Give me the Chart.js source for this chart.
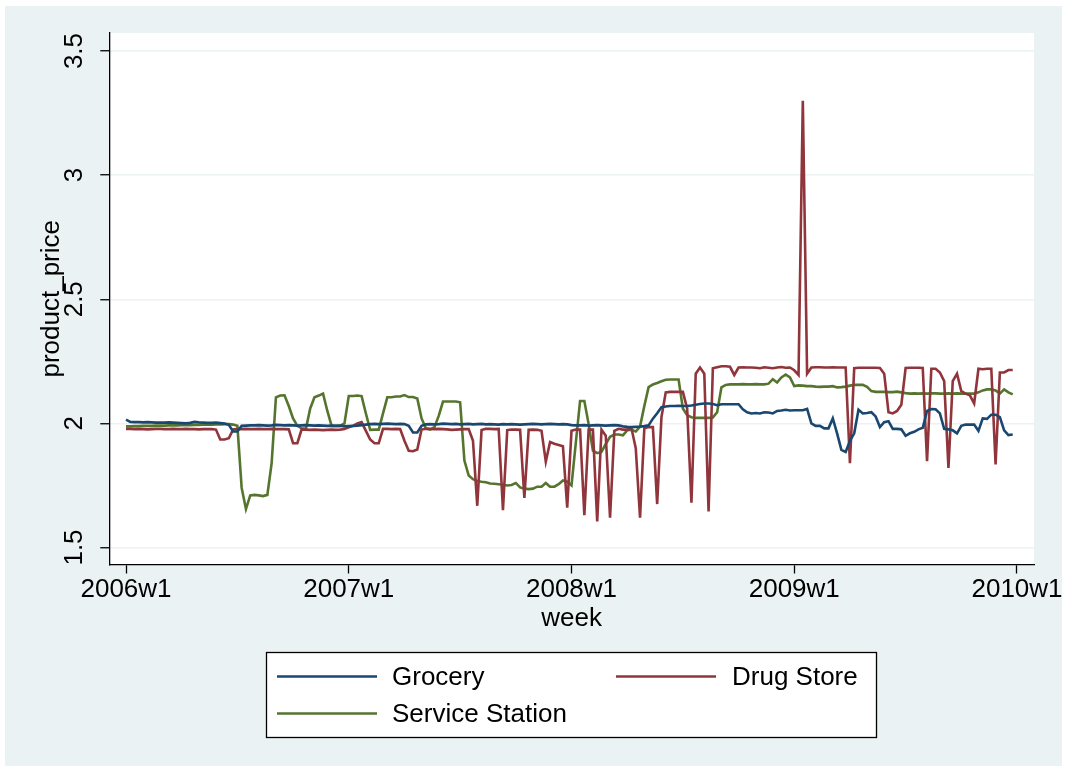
<!DOCTYPE html>
<html>
<head>
<meta charset="utf-8">
<title>product_price by week</title>
<script src="https://cdn.jsdelivr.net/npm/chart.js@4.4.1/dist/chart.umd.min.js"></script>
<style>
  html, body { margin: 0; padding: 0; background: #ffffff; }
  canvas { display: block; }
</style>
</head>
<body>
<canvas id="c" width="1067" height="772"></canvas>
<script>
// Weekly index (Stata %tw numbering: 2006w1 = 2392), 2006w1 .. 2009w52
const firstWeek = 2392;
const weeks = Array.from({ length: 208 }, (_, i) => firstWeek + i);

// x-axis ticks and their labels
const xTickWeeks = [2392, 2444, 2496, 2548, 2600];
const xTickLabels = ['2006w1', '2007w1', '2008w1', '2009w1', '2010w1'];

// y-axis ticks and their labels
const yTickValues = [1.5, 2, 2.5, 3, 3.5];
const yTickLabels = ['1.5', '2', '2.5', '3', '3.5'];

const seriesNames = ['Grocery', 'Drug Store', 'Service Station'];

// Average product price per week, grocery stores
const grocery = [
  2.015, 2.006, 2.005, 2.005, 2.004, 2.005, 2.004, 2.003, 2.003, 2.003,
  2.004, 2.003, 2.002, 2.001, 2.000, 2.002, 2.006, 2.004, 2.003, 2.002,
  2.002, 2.003, 2.001, 1.999, 1.994, 1.967, 1.967, 1.990, 1.991, 1.992,
  1.992, 1.993, 1.992, 1.991, 1.992, 1.994, 1.993, 1.992, 1.993, 1.992,
  1.991, 1.992, 1.993, 1.992, 1.991, 1.992, 1.991, 1.990, 1.991, 1.990,
  1.991, 1.988, 1.989, 1.990, 1.991, 1.993, 1.995, 1.997, 1.998, 1.997,
  1.998, 1.999, 1.998, 1.997, 1.998, 1.997, 1.990, 1.963, 1.963, 1.990,
  1.996, 1.997, 1.996, 1.997, 1.999, 1.998, 1.997, 1.998, 1.996, 1.997,
  1.998, 1.996, 1.997, 1.998, 1.996, 1.997, 1.996, 1.995, 1.997, 1.996,
  1.997, 1.996, 1.995, 1.996, 1.997, 1.998, 1.997, 1.996, 1.997, 1.998,
  1.997, 1.996, 1.997, 1.996, 1.993, 1.992, 1.992, 1.993, 1.991, 1.992,
  1.993, 1.992, 1.991, 1.992, 1.993, 1.992, 1.988, 1.986, 1.985, 1.986,
  1.987, 1.989, 1.992, 2.019, 2.041, 2.065, 2.068, 2.070, 2.070, 2.071,
  2.070, 2.070, 2.072, 2.075, 2.078, 2.080, 2.080, 2.078, 2.073, 2.077,
  2.077, 2.077, 2.077, 2.077, 2.057, 2.045, 2.040, 2.042, 2.040, 2.045,
  2.044, 2.040, 2.050, 2.052, 2.055, 2.052, 2.053, 2.053, 2.053, 2.058,
  2.000, 1.990, 1.990, 1.980, 1.980, 2.020, 1.960, 1.893, 1.885, 1.930,
  1.960, 2.055, 2.040, 2.042, 2.045, 2.028, 1.985, 2.005, 2.009, 1.978,
  1.978, 1.976, 1.950, 1.960, 1.966, 1.976, 1.982, 2.050, 2.058, 2.057,
  2.040, 1.978, 1.976, 1.972, 1.960, 1.990, 1.995, 1.995, 1.995, 1.970,
  2.020, 2.018, 2.035, 2.035, 2.025, 1.972, 1.953, 1.955
];

// Average product price per week, drug stores
const drugStore = [
  1.978, 1.978, 1.977, 1.978, 1.977, 1.976, 1.977, 1.978, 1.978, 1.977,
  1.977, 1.978, 1.977, 1.977, 1.978, 1.977, 1.977, 1.976, 1.977, 1.977,
  1.977, 1.975, 1.935, 1.935, 1.940, 1.975, 1.977, 1.977, 1.978, 1.977,
  1.977, 1.978, 1.977, 1.977, 1.978, 1.977, 1.977, 1.977, 1.976, 1.920,
  1.920, 1.976, 1.975, 1.974, 1.975, 1.974, 1.973, 1.974, 1.975, 1.974,
  1.975, 1.977, 1.984, 1.990, 2.000, 2.005, 1.970, 1.935, 1.920, 1.920,
  1.978, 1.978, 1.977, 1.978, 1.977, 1.930, 1.890, 1.888, 1.895, 1.975,
  1.978, 1.978, 1.977, 1.978, 1.977, 1.976, 1.974, 1.975, 1.976, 1.977,
  1.977, 1.930, 1.668, 1.973, 1.978, 1.978, 1.977, 1.978, 1.650, 1.973,
  1.975, 1.975, 1.974, 1.700, 1.974, 1.975, 1.974, 1.970, 1.846, 1.925,
  1.918, 1.913, 1.908, 1.660, 1.970, 1.975, 1.975, 1.630, 1.975, 1.975,
  1.605, 1.975, 1.950, 1.620, 1.970, 1.978, 1.975, 1.975, 1.980, 1.900,
  1.620, 1.980, 1.985, 1.985, 1.675, 2.025, 2.125, 2.127, 2.127, 2.127,
  2.127, 2.060, 1.680, 2.200, 2.225, 2.200, 1.645, 2.222, 2.226, 2.230,
  2.230, 2.228, 2.195, 2.225, 2.226, 2.225, 2.225, 2.224, 2.222, 2.226,
  2.224, 2.222, 2.225, 2.227, 2.224, 2.225, 2.214, 2.195, 3.300, 2.200,
  2.225, 2.226, 2.226, 2.225, 2.225, 2.226, 2.225, 2.225, 2.225, 1.840,
  2.222, 2.224, 2.224, 2.224, 2.224, 2.224, 2.223, 2.200, 2.045, 2.040,
  2.050, 2.075, 2.223, 2.224, 2.224, 2.224, 2.223, 1.848, 2.220, 2.220,
  2.205, 2.170, 1.820, 2.170, 2.200, 2.130, 2.120, 2.113, 2.080, 2.220,
  2.218, 2.220, 2.220, 1.835, 2.205, 2.205, 2.215, 2.215
];

// Average product price per week, service stations
const serviceStation = [
  1.988, 1.988, 1.989, 1.989, 1.990, 1.990, 1.990, 1.991, 1.991, 1.991,
  1.992, 1.992, 1.992, 1.993, 1.993, 1.993, 1.994, 1.994, 1.995, 1.995,
  1.995, 1.996, 1.996, 1.997, 1.997, 1.995, 1.990, 1.740, 1.655, 1.710,
  1.712, 1.710, 1.707, 1.712, 1.840, 2.105, 2.112, 2.113, 2.070, 2.020,
  1.990, 1.980, 1.978, 2.060, 2.105, 2.112, 2.120, 2.050, 1.990, 1.990,
  1.990, 2.000, 2.110, 2.110, 2.112, 2.110, 2.040, 1.974, 1.975, 1.975,
  2.040, 2.105, 2.105, 2.108, 2.108, 2.114, 2.106, 2.106, 2.100, 2.020,
  1.980, 1.975, 1.985, 2.030, 2.088, 2.088, 2.088, 2.088, 2.085, 1.850,
  1.790, 1.775, 1.768, 1.765, 1.763, 1.758, 1.757, 1.755, 1.753, 1.750,
  1.752, 1.760, 1.742, 1.737, 1.735, 1.737, 1.745, 1.745, 1.760, 1.745,
  1.745, 1.755, 1.770, 1.765, 1.750, 1.920, 2.090, 2.090, 1.997, 1.890,
  1.880, 1.885, 1.917, 1.946, 1.955, 1.955, 1.952, 1.972, 1.974, 1.967,
  1.987, 2.070, 2.146, 2.157, 2.163, 2.170, 2.176, 2.177, 2.177, 2.177,
  2.060, 2.033, 2.025, 2.022, 2.022, 2.022, 2.022, 2.024, 2.045, 2.145,
  2.155, 2.157, 2.157, 2.157, 2.158, 2.157, 2.157, 2.158, 2.157, 2.157,
  2.160, 2.178, 2.165, 2.185, 2.197, 2.185, 2.150, 2.153, 2.152, 2.150,
  2.150, 2.148, 2.147, 2.148, 2.148, 2.150, 2.145, 2.146, 2.148, 2.152,
  2.155, 2.155, 2.155, 2.147, 2.130, 2.127, 2.127, 2.127, 2.126, 2.126,
  2.128, 2.125, 2.122, 2.120, 2.121, 2.120, 2.121, 2.120, 2.121, 2.121,
  2.120, 2.120, 2.121, 2.120, 2.121, 2.120, 2.120, 2.120, 2.120, 2.125,
  2.133, 2.137, 2.137, 2.133, 2.120, 2.137, 2.125, 2.117
];

const seriesValues = [grocery, drugStore, serviceStation];
const seriesColors = ['#1a476f', '#90353b', '#55752f'];

const FONT = "'Liberation Sans', Arial, Helvetica, sans-serif";
const REGION_BG = '#eaf2f3';
const LINE_W = 2.6;

const datasets = seriesValues.map((vals, k) => ({
  label: seriesNames[k],
  data: vals.map((v, i) => ({ x: weeks[i], y: v })),
  borderColor: seriesColors[k],
  backgroundColor: seriesColors[k],
  borderWidth: LINE_W,
  pointRadius: 0,
  tension: 0,
  fill: false
}));

// Graph region background, white plot region
const backgroundPlugin = {
  id: 'regionBackground',
  beforeDraw(chart) {
    const { ctx, chartArea: a } = chart;
    ctx.save();
    ctx.fillStyle = '#ffffff';
    ctx.fillRect(0, 0, chart.width, chart.height);
    ctx.fillStyle = REGION_BG;
    ctx.fillRect(5, 6, 1057, 760);
    ctx.fillStyle = '#ffffff';
    ctx.fillRect(a.left, a.top, a.right - a.left, a.bottom - a.top);
    ctx.restore();
  }
};

// Boxed two-column legend below the plot
const boxedLegend = {
  id: 'boxedLegend',
  afterDraw(chart) {
    const { ctx } = chart;
    const box = { x: 266.5, y: 652.5, w: 610, h: 85 };
    const slots = [
      { lx: 277, tx: 392, y: 676.5 },
      { lx: 616, tx: 732, y: 676.5 },
      { lx: 277, tx: 392, y: 713.5 }
    ];
    ctx.save();
    ctx.fillStyle = '#ffffff';
    ctx.fillRect(box.x, box.y, box.w, box.h);
    ctx.strokeStyle = '#000000';
    ctx.lineWidth = 1.3;
    ctx.strokeRect(box.x, box.y, box.w, box.h);
    ctx.font = '26px ' + FONT;
    ctx.textBaseline = 'middle';
    ctx.textAlign = 'left';
    chart.data.datasets.forEach((ds, k) => {
      const s = slots[k];
      ctx.strokeStyle = ds.borderColor;
      ctx.lineWidth = LINE_W;
      ctx.beginPath();
      ctx.moveTo(s.lx, s.y);
      ctx.lineTo(s.lx + 100, s.y);
      ctx.stroke();
      ctx.fillStyle = '#000000';
      ctx.fillText(ds.label, s.tx, s.y + 1);
    });
    ctx.restore();
  }
};

new Chart(document.getElementById('c'), {
  type: 'line',
  data: { datasets },
  plugins: [backgroundPlugin, boxedLegend],
  options: {
    responsive: false,
    animation: false,
    events: [],
    layout: { padding: { left: 0, right: 33, top: 33, bottom: 132 } },
    plugins: { legend: { display: false }, tooltip: { enabled: false } },
    scales: {
      x: {
        type: 'linear',
        min: 2388.1,
        max: 2603.97,
        afterBuildTicks(scale) {
          scale.ticks = xTickWeeks.map(v => ({ value: v }));
        },
        afterFit(scale) { scale.height = 75.5; },
        ticks: {
          autoSkip: false,
          maxRotation: 0,
          padding: 1,
          color: '#000000',
          font: { family: FONT, size: 26 },
          callback(value) {
            const k = xTickWeeks.indexOf(value);
            return k >= 0 ? xTickLabels[k] : '';
          }
        },
        grid: {
          drawOnChartArea: false,
          drawTicks: true,
          tickLength: 9,
          tickColor: '#000000',
          tickWidth: 1.3
        },
        border: { display: true, color: '#000000', width: 1.3 },
        title: {
          display: true,
          text: 'week',
          color: '#000000',
          font: { family: FONT, size: 26 },
          padding: { top: 0, bottom: 5.4 }
        }
      },
      y: {
        min: 1.4315,
        max: 3.5726,
        afterBuildTicks(scale) {
          scale.ticks = yTickValues.map(v => ({ value: v }));
        },
        afterFit(scale) { scale.width = 109.3; },
        ticks: {
          minRotation: 90,
          maxRotation: 90,
          crossAlign: 'center',
          padding: 7.9,
          color: '#000000',
          font: { family: FONT, size: 26 },
          callback(value) {
            const k = yTickValues.indexOf(value);
            return k >= 0 ? yTickLabels[k] : '';
          }
        },
        grid: {
          color: REGION_BG,
          lineWidth: 1.5,
          drawTicks: true,
          tickLength: 9,
          tickColor: '#000000',
          tickWidth: 1.3
        },
        border: { display: true, color: '#000000', width: 1.3 },
        title: {
          display: true,
          text: 'product_price',
          color: '#000000',
          font: { family: FONT, size: 26 },
          padding: { top: 36.4, bottom: 0 }
        }
      }
    }
  }
});
</script>
</body>
</html>
